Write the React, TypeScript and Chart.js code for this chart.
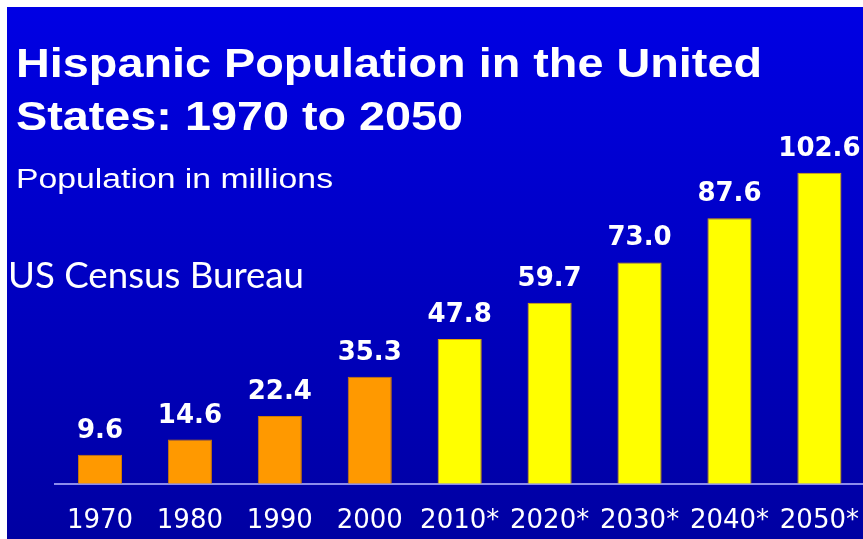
import React, { useEffect, useRef } from "react";
import { Chart, registerables } from "chart.js";

Chart.register(...registerables);

// ---- data ----
const years = ["1970", "1980", "1990", "2000", "2010*", "2020*", "2030*", "2040*", "2050*"];
const population = [9.6, 14.6, 22.4, 35.3, 47.8, 59.7, 73.0, 87.6, 102.6];
const titleLines = ["Hispanic Population in the United", "States: 1970 to 2050"];
const subtitle = "Population in millions";
const source = "US Census Bureau";

const ORANGE = "#FF9900";
const YELLOW = "#FFFF00";

function drawFitted(
  ctx: CanvasRenderingContext2D,
  text: string,
  x: number,
  y: number,
  font: string,
  targetWidth: number
) {
  ctx.save();
  ctx.font = font;
  ctx.textAlign = "left";
  ctx.textBaseline = "alphabetic";
  const w = ctx.measureText(text).width;
  const sx = targetWidth / w;
  ctx.translate(x, y);
  ctx.scale(sx, 1);
  ctx.fillText(text, 0, 0);
  ctx.restore();
}

const slidePlugin = {
  id: "slide",
  beforeDraw(chart: any) {
    const { ctx, width, height } = chart;
    ctx.save();
    ctx.fillStyle = "#ffffff";
    ctx.fillRect(0, 0, width, height);
    const g = ctx.createLinearGradient(0, 7, 0, 539);
    g.addColorStop(0, "#0000E4");
    g.addColorStop(1, "#0000A2");
    ctx.fillStyle = g;
    ctx.fillRect(7, 7, width - 7, height - 7);
    ctx.restore();
  },
  afterDraw(chart: any) {
    const { ctx } = chart;
    ctx.save();
    ctx.fillStyle = "#ffffff";
    drawFitted(ctx, titleLines[0], 16, 77, 'bold 40px "Liberation Sans", Arial, sans-serif', 746);
    drawFitted(ctx, titleLines[1], 16, 130, 'bold 40px "Liberation Sans", Arial, sans-serif', 447);
    drawFitted(ctx, subtitle, 16, 188, '27px "Liberation Sans", Arial, sans-serif', 317);
    drawFitted(ctx, source, 8, 288, '37px Lato, "Open Sans", sans-serif', 296);

    // value labels above bars
    const meta = chart.getDatasetMeta(0);
    ctx.font = 'bold 26px "DejaVu Sans", sans-serif';
    ctx.textAlign = "center";
    ctx.textBaseline = "alphabetic";
    meta.data.forEach((bar: any, i: number) => {
      ctx.fillText(population[i].toFixed(1), bar.x, bar.y - 17);
    });
    ctx.restore();
  },
};

export default function App() {
  const ref = useRef<HTMLCanvasElement | null>(null);

  useEffect(() => {
    if (!ref.current) return;
    const chart = new Chart(ref.current, {
      type: "bar",
      data: {
        labels: years,
        datasets: [
          {
            data: population,
            backgroundColor: years.map((y) => (y.includes("*") ? YELLOW : ORANGE)),
            borderColor: years.map((y) => (y.includes("*") ? "#E8A000" : "#D07A00")),
            borderWidth: 1,
            categoryPercentage: 1,
            barPercentage: 0.49,
          },
        ],
      },
      options: {
        responsive: false,
        animation: false,
        devicePixelRatio: 1,
        layout: { padding: { left: 55, right: 0, top: 120, bottom: 1 } },
        plugins: {
          legend: { display: false },
          tooltip: { enabled: false },
          title: { display: false },
        },
        scales: {
          x: {
            grid: { display: false, drawTicks: false },
            border: { display: true, color: "#8C8CEC", width: 2 },
            ticks: {
              color: "#ffffff",
              padding: 22,
              font: { family: '"DejaVu Sans", sans-serif', size: 26 },
              maxRotation: 0,
              autoSkip: false,
            },
          },
          y: {
            display: false,
            min: 0,
            max: 120,
          },
        },
      },
      plugins: [slidePlugin],
    });
    return () => chart.destroy();
  }, []);

  return (
    <div
      style={{
        position: "fixed",
        left: 0,
        top: 0,
        width: 863,
        height: 539,
        overflow: "hidden",
        background: "#ffffff",
      }}
    >
      <canvas ref={ref} width={881} height={560} style={{ display: "block" }} />
    </div>
  );
}
